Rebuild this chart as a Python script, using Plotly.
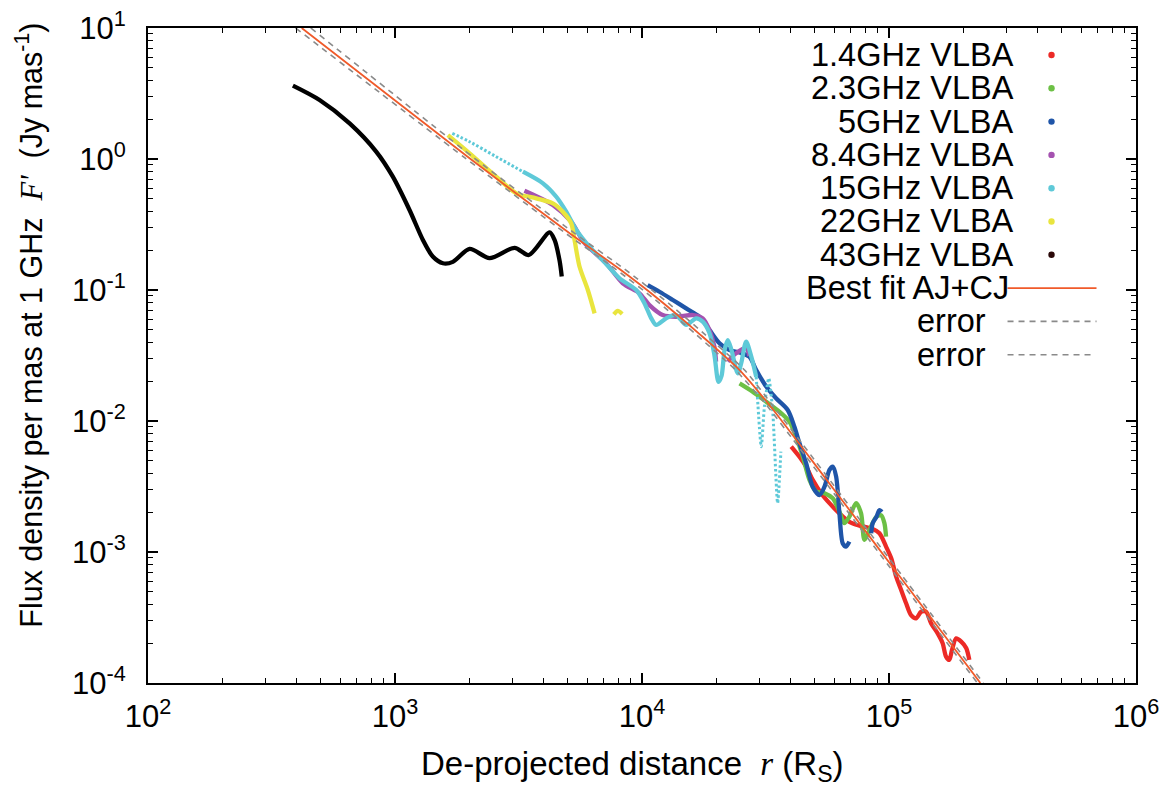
import plotly.graph_objects as go

# ---------------- data ----------------
# 1.4 GHz VLBA
r_14 = [40180, 43400, 46200, 49100, 53100, 57400, 63000, 69100, 75900, 85900, 91500, 97300,
        102100, 106900, 112000, 117300, 122800, 128800, 134900, 141300, 148000, 157400,
        164900, 170200, 175400, 179900, 187000, 196000, 205300, 211500]
F_14 = [0.00637, 0.00533, 0.00448, 0.00355, 0.00281, 0.00236, 0.00197, 0.00170, 0.00159, 0.00150,
        0.00139, 0.00110, 0.000897, 0.000648, 0.000513, 0.000406, 0.000330, 0.000312, 0.000350,
        0.000350, 0.000286, 0.000239, 0.000201, 0.000159, 0.000150, 0.000179, 0.000219,
        0.000207, 0.000185, 0.000150]
# 2.3 GHz VLBA
r_23 = [24830, 28050, 31840, 35970, 39540, 42070, 44770, 47640, 50700, 54800, 59200, 63000,
        65900, 69100, 73600, 77100, 79500, 83300, 88700, 92900, 95800, 97300]
F_23 = [0.0194, 0.01676, 0.01403, 0.01178, 0.00988, 0.00759, 0.00534, 0.00355, 0.00289, 0.00281,
        0.00257, 0.00203, 0.00166, 0.00186, 0.00236, 0.00197, 0.00124, 0.00147, 0.00185,
        0.00191, 0.00166, 0.00131]
# 5 GHz VLBA
r_5 = [10540, 11770, 13330, 15090, 17100, 18750, 20600, 22600, 24830, 27200, 29000, 31840,
       34900, 38900, 41400, 43400, 46200, 49100, 52300, 54800, 57400, 59200, 61100, 63000,
       65000, 67000, 69100, None, 84700, 85900, 88900, 91500, 93500]
F_5 = [0.109, 0.0970, 0.0839, 0.0724, 0.0625, 0.0496, 0.0392, 0.0348, 0.0333, 0.0310, 0.0245,
       0.0183, 0.0149, 0.01213, 0.00904, 0.00676, 0.00475, 0.00315, 0.00272, 0.00315, 0.00423,
       0.00448, 0.00376, 0.00197, 0.00116, 0.00110, 0.00120, None, 0.00139, 0.00166, 0.00185,
       0.00209, 0.00202]
# 8.4 GHz VLBA
r_84 = [3342, 4355, 5168, 5848, 7160, 8360, 9770, 10720, 12130, 13740, 16070, 17620, 18750,
        19640, 19950, None, 22250, 24040, 26400, 27200]
F_84 = [0.573, 0.446, 0.332, 0.2286, 0.160, 0.1125, 0.0944, 0.0767, 0.0644, 0.0625, 0.0644,
        0.0608, 0.0496, 0.0369, 0.0284, None, 0.0284, 0.0329, 0.0359, 0.0313]
# 15 GHz VLBA
r_15 = [1706, 2004, 2570, 3296, 3972, 4498, 4932, 5420, 6124, 6936, 8110, 9480, 10230, 10890,
        11410, 12520, 13740, 15090, 16560, 17620, 18750, 19640, 20400, 20990, 21590, 22250,
        23030, 24420, 25200, 26400, 27700, 29000, 30400, 31300, 32600, 33800, 35400, 36500]
F_15 = [1.57, 1.355, 1.041, 0.800, 0.652, 0.515, 0.397, 0.287, 0.214, 0.1687, 0.1227, 0.100,
        0.0793, 0.0610, 0.0541, 0.0608, 0.0644, 0.0541, 0.0608, 0.0573, 0.0470, 0.0319, 0.0199,
        0.0221, 0.0348, 0.0415, 0.0348, 0.0231, 0.0275, 0.0403, 0.0310, 0.0218, 0.00637,
        0.01285, 0.0212, 0.01213, 0.00236, 0.00583]
# 22 GHz VLBA
r_22 = [1637, 2004, 2570, 3097, 3733, 4355, 4779, 5168, 5331, 5585, 6035, 6427, None, 7690, 7980, 8310]
F_22 = [1.52, 1.105, 0.733, 0.547, 0.501, 0.459, 0.396, 0.323, 0.241, 0.151, 0.100, 0.0664,
        None, 0.0651, 0.0692, 0.0656]
# 43 GHz VLBA
r_43 = [386, 495, 655, 839, 980, 1145, 1297, 1422, 1563, 1715, 2004, 2415, 3048, 3483, 4226,
        4426, 4634, 4732]
F_43 = [3.63, 2.82, 1.87, 1.14, 0.733, 0.408, 0.241, 0.180, 0.160, 0.164, 0.206, 0.175, 0.210,
        0.185, 0.275, 0.241, 0.169, 0.127]
# best fit AJ+CJ and error curves
r_fit = [419, 2004, 5093, 8110, 11770, 17100, 24830, 32800, 43400, 63000, 110200, 234400]
F_fit = [10.0, 1.012, 0.271, 0.1445, 0.0839, 0.0461, 0.0245, 0.01324, 0.00667, 0.00264,
         0.000656, 0.0001]
r_err1 = [396, 1931, 4907, 7813, 11340, 16470, 23920, 31900, 42200, 61260, 107160, 227900]
r_err2 = [456, 2100, 5336, 8497, 12330, 17920, 26010, 33730, 44630, 64790, 113330, 241060]
F_err = F_fit

names = ["1.4GHz VLBA", "2.3GHz VLBA", "5GHz VLBA", "8.4GHz VLBA", "15GHz VLBA",
         "22GHz VLBA", "43GHz VLBA"]
colors = ["#ec2a26", "#6cc045", "#1f55a8", "#a552b0", "#5ec9d8", "#e9e53e", "#000000"]
legend_dot_colors = ["#ec2a26", "#6cc045", "#1f55a8", "#a552b0", "#5ec9d8", "#e9e53e", "#2a0808"]
fit_color = "#f05a2a"
err_color = "#8a8a8a"

x_ticks = [1e2, 1e3, 1e4, 1e5, 1e6]
x_ticktext = ["10<sup>2</sup>", "10<sup>3</sup>", "10<sup>4</sup>", "10<sup>5</sup>", "10<sup>6</sup>"]
y_ticks = [1e-4, 1e-3, 1e-2, 1e-1, 1e0, 1e1]
y_ticktext = ["10<sup>-4</sup>", "10<sup>-3</sup>", "10<sup>-2</sup>", "10<sup>-1</sup>",
              "10<sup>0</sup>", "10<sup>1</sup>"]

# ---------------- figure ----------------
FONT = "Liberation Sans, Arial, Helvetica, sans-serif"
W, H = 1168, 786
L, R, T, B = 148.3, 31.5, 28, 103
PW, PH = W - L - R, H - T - B


def px(xp):
    return (xp - L) / PW


def py(yp):
    return (H - B - yp) / PH


fig = go.Figure()
LW = 4.3
data = [(r_14, F_14), (r_23, F_23), (r_5, F_5), (r_84, F_84)]
for (xs, ys), nm, c in zip(data, names[:4], colors[:4]):
    fig.add_trace(go.Scatter(x=xs, y=ys, mode="lines", name=nm, showlegend=False,
                             line=dict(color=c, width=LW, shape="spline", smoothing=0.8),
                             connectgaps=False))
# 15 GHz: dotted start, solid middle, dotted steep end
fig.add_trace(go.Scatter(x=r_15[:4], y=F_15[:4], mode="lines", name=names[4], showlegend=False,
                         line=dict(color=colors[4], width=3, dash="2.5px,2px", shape="spline")))
fig.add_trace(go.Scatter(x=r_15[3:32], y=F_15[3:32], mode="lines", name=names[4], showlegend=False,
                         line=dict(color=colors[4], width=LW, shape="spline", smoothing=0.8)))
fig.add_trace(go.Scatter(x=r_15[31:], y=F_15[31:], mode="lines", name=names[4], showlegend=False,
                         line=dict(color=colors[4], width=3, dash="2.5px,2.5px", shape="spline",
                                   smoothing=0.6)))
fig.add_trace(go.Scatter(x=r_22, y=F_22, mode="lines", name=names[5], showlegend=False,
                         line=dict(color=colors[5], width=LW, shape="spline", smoothing=0.8)))
fig.add_trace(go.Scatter(x=r_43, y=F_43, mode="lines", name=names[6], showlegend=False,
                         line=dict(color=colors[6], width=LW, shape="spline", smoothing=0.8)))
fig.add_trace(go.Scatter(x=r_fit, y=F_fit, mode="lines", name="Best fit AJ+CJ", showlegend=False,
                         line=dict(color=fit_color, width=1.8, shape="spline", smoothing=0.6)))
for xs in (r_err1, r_err2):
    fig.add_trace(go.Scatter(x=xs, y=F_err, mode="lines", name="error", showlegend=False,
                             line=dict(color=err_color, width=1.6, dash="6px,5px",
                                       shape="spline", smoothing=0.6)))

# minor ticks positions (axis decoration)
x_minor = [m * 10 ** d for d in range(2, 6) for m in range(2, 10)]
y_minor = [m * 10.0 ** d for d in range(-4, 1) for m in range(2, 10)]

axis_common = dict(type="log", showgrid=False, zeroline=False, showline=True, linecolor="black",
                   linewidth=2, mirror="allticks", ticks="inside", ticklen=10, tickwidth=1.5,
                   tickcolor="black", tickmode="array", automargin=False,
                   tickfont=dict(family=FONT, size=31, color="black"))
fig.update_xaxes(range=[2, 6], tickvals=x_ticks, ticktext=x_ticktext,
                 minor=dict(ticks="inside", ticklen=5, tickwidth=1.2, tickcolor="black",
                            tickvals=x_minor, showgrid=False),
                 ticklabelstandoff=5, **axis_common)
fig.update_yaxes(range=[-4, 1], tickvals=y_ticks, ticktext=y_ticktext,
                 minor=dict(ticks="inside", ticklen=5, tickwidth=1.2, tickcolor="black",
                            tickvals=y_minor, showgrid=False),
                 ticklabelstandoff=14, **axis_common)

annotations = []
shapes = []
# axis titles
annotations.append(dict(xref="paper", yref="paper", x=px(633), y=py(766), xanchor="center",
                        yanchor="middle", showarrow=False,
                        text="De-projected distance\u00a0\u00a0<span style='font-family:Liberation Serif'><i>r</i></span> (R<sub>S</sub>)",
                        font=dict(family=FONT, size=33, color="black")))
annotations.append(dict(xref="paper", yref="paper", x=px(29), y=py(325), xanchor="center",
                        yanchor="middle", showarrow=False, textangle=-90,
                        text="Flux density per mas at 1 GHz\u00a0\u00a0<span style='font-family:Liberation Serif'><i>F'</i></span>\u00a0\u00a0(Jy mas<sup>-1</sup>)",
                        font=dict(family=FONT, size=30.5, color="black")))

# key (gnuplot style: text right-aligned, sample to the right)
row_y = [55 + 33.3 * k for k in range(10)]
KEYFONT = 32.5
for k, (nm, c) in enumerate(zip(names, legend_dot_colors)):
    annotations.append(dict(xref="paper", yref="paper", x=px(1016), y=py(row_y[k]),
                            xanchor="right", yanchor="middle", showarrow=False, text=nm,
                            font=dict(family=FONT, size=KEYFONT, color="black")))
    shapes.append(dict(type="circle", xref="paper", yref="paper", xsizemode="pixel",
                       ysizemode="pixel", xanchor=px(1052), yanchor=py(row_y[k]),
                       x0=-3.2, x1=3.2, y0=-3.2, y1=3.2, fillcolor=c, line=dict(width=0)))
annotations.append(dict(xref="paper", yref="paper", x=px(1011), y=py(row_y[7]),
                        xanchor="right", yanchor="middle", showarrow=False, text="Best fit AJ+CJ",
                        font=dict(family=FONT, size=KEYFONT, color="black")))
shapes.append(dict(type="line", xref="paper", yref="paper", x0=px(1008), x1=px(1097),
                   y0=py(row_y[7]), y1=py(row_y[7]), line=dict(color=fit_color, width=1.8)))
for k in (8, 9):
    annotations.append(dict(xref="paper", yref="paper", x=px(988), y=py(row_y[k]),
                            xanchor="right", yanchor="middle", showarrow=False, text="error",
                            font=dict(family=FONT, size=KEYFONT, color="black")))
    shapes.append(dict(type="line", xref="paper", yref="paper", x0=px(1008),
                       x1=px(1097 if k == 8 else 1094),
                       y0=py(row_y[k]), y1=py(row_y[k]),
                       line=dict(color=err_color, width=1.6, dash="6px,5px")))

fig.update_layout(width=W, height=H, template="none", showlegend=False,
                  margin=dict(l=L, r=R, t=T, b=B, pad=0),
                  paper_bgcolor="white", plot_bgcolor="white",
                  font=dict(family=FONT, color="black"),
                  annotations=annotations, shapes=shapes)

fig.write_html("out.html")
